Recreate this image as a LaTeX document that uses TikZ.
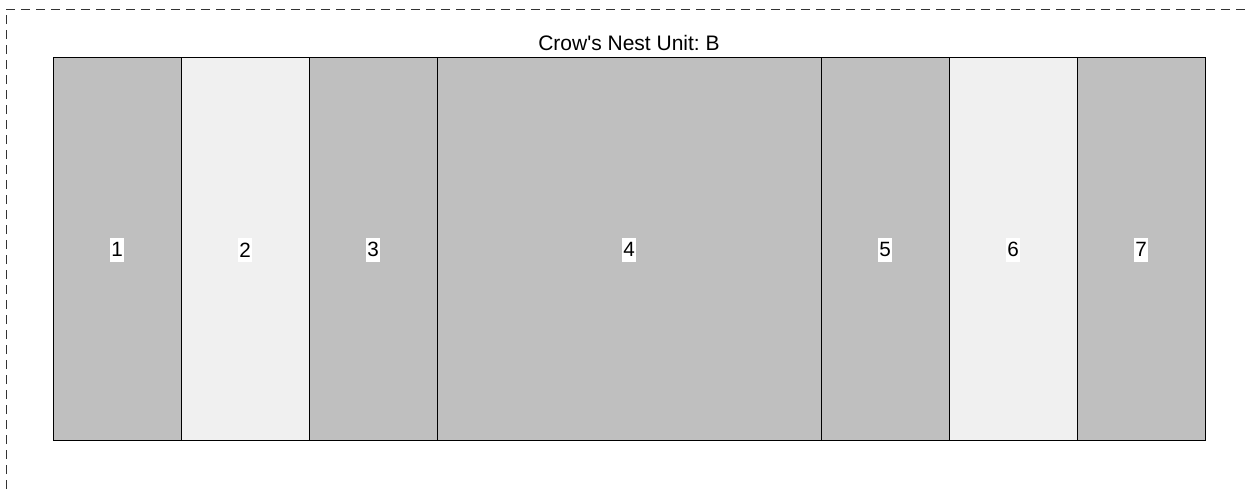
\documentclass[tikz,border=0pt]{standalone}
\usepackage{fontspec}
\setmainfont{Liberation Sans}
\usetikzlibrary{positioning}
\frenchspacing

\begin{document}
\begin{tikzpicture}[
  x=0.75pt, y=-0.75pt,
  node distance=0pt,
  dark/.style={draw=black, line width=0.75pt, fill=black!25, minimum width=96pt, minimum height=287.25pt, outer sep=0pt, inner sep=0pt},
  light/.style={dark, fill=black!6},
  num/.style={fill=white, inner xsep=0.6pt, inner ysep=3.5pt, font=\fontsize{15.5}{18}\selectfont},
  frame/.style={draw=black!80, line width=0.75pt, dash pattern=on 6.75pt off 4.5pt},
]
\useasboundingbox (0,0) rectangle (1249,489);
\draw[frame] (6,489) -- (6,9) -- (1249,9);

\node[font=\fontsize{15.75}{18}\selectfont, anchor=base] (title) at (629,50) {Crow\textquotesingle s Nest Unit: B};

\node[dark, anchor=north west] (b1) at (53,57) {};
\node[light, right=of b1] (b2) {};
\node[dark, right=of b2] (b3) {};
\node[dark, right=of b3, minimum width=288pt] (b4) {};
\node[dark, right=of b4] (b5) {};
\node[light, right=of b5] (b6) {};
\node[dark, right=of b6] (b7) {};

\foreach \i in {1,...,7}
  \node[num] (n\i) at ([yshift=-1pt]b\i.center) {\i};
\end{tikzpicture}
\end{document}
